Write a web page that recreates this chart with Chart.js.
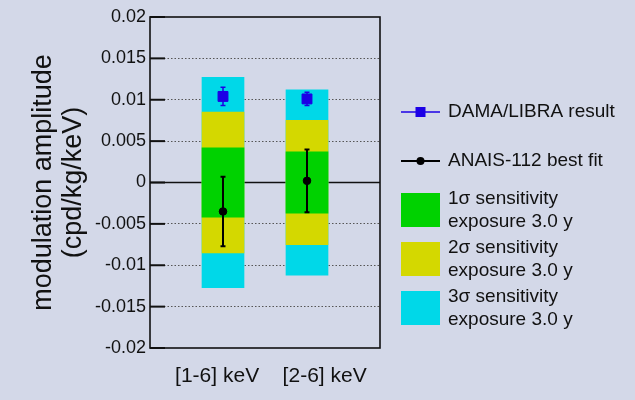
<!DOCTYPE html>
<html>
<head>
<meta charset="utf-8">
<script src="https://cdn.jsdelivr.net/npm/chart.js@4"></script>
<style>
  html, body { margin: 0; padding: 0; background: #d3d8e8; }
  #wrap { width: 635px; height: 400px; }
</style>
</head>
<body>
<div id="wrap"><canvas id="chart" width="635" height="400"></canvas></div>
<script>
// categories and where they sit on the x axis
const categories = ["[1-6] keV", "[2-6] keV"];
const barX = [1, 2];
const labelX = [0.93, 2.21];

// sensitivity bands (half widths, centred on 0)
const sigma1 = [0.0042, 0.0037];
const sigma2 = [0.0085, 0.0075];
const sigma3 = [0.0127, 0.0112];

// measured points
const anaisFit = [-0.0035, 0.0002];
const anaisErr = [0.0042, 0.0038];
const damaValue = [0.0104, 0.0101];
const damaErr = [0.0011, 0.0008];

const FONT = "'Liberation Sans', Arial, Helvetica, sans-serif";
const GREEN = "#00d200";
const YELLOW = "#d4d800";
const CYAN = "#00d8e8";
const BLUE = "#1c00e6";

const band = (half) => half.map((h, i) => ({ x: barX[i], y: [-h, h] }));
const pts = (vals) => vals.map((v, i) => ({ x: barX[i], y: v }));

const damaSet = {
  type: "scatter", label: "DAMA/LIBRA result", data: pts(damaValue), errors: damaErr,
  pointStyle: "rect", pointRadius: 7, backgroundColor: BLUE, borderColor: BLUE,
  borderWidth: 1, errorWidth: 1.5, cap: 2.5, order: 0,
};
const anaisSet = {
  type: "scatter", label: "ANAIS-112 best fit", data: pts(anaisFit), errors: anaisErr,
  pointStyle: "circle", pointRadius: 3.8, backgroundColor: "#000", borderColor: "#000",
  borderWidth: 1, errorWidth: 2, cap: 2.5, order: 1,
};
const s1Set = { label: "1σ sensitivity\nexposure 3.0 y", data: band(sigma1), backgroundColor: GREEN, order: 2 };
const s2Set = { label: "2σ sensitivity\nexposure 3.0 y", data: band(sigma2), backgroundColor: YELLOW, order: 3 };
const s3Set = { label: "3σ sensitivity\nexposure 3.0 y", data: band(sigma3), backgroundColor: CYAN, order: 4 };

// error bars under each point set
const errorBars = {
  id: "errorBars",
  beforeDatasetDraw(chart, args) {
    const ds = chart.data.datasets[args.index];
    if (!ds.errors) return;
    const { ctx, scales: { x, y } } = chart;
    ctx.save();
    ctx.strokeStyle = ds.borderColor;
    ctx.lineWidth = ds.errorWidth;
    ds.data.forEach((p, i) => {
      const px = x.getPixelForValue(p.x);
      const top = y.getPixelForValue(p.y + ds.errors[i]);
      const bot = y.getPixelForValue(p.y - ds.errors[i]);
      ctx.beginPath();
      ctx.moveTo(px, top); ctx.lineTo(px, bot);
      ctx.moveTo(px - ds.cap, top); ctx.lineTo(px + ds.cap, top);
      ctx.moveTo(px - ds.cap, bot); ctx.lineTo(px + ds.cap, bot);
      ctx.stroke();
    });
    ctx.restore();
  },
};

// zero line under the bars, frame and inner ticks on top
const frame = {
  id: "frame",
  beforeDatasetsDraw(chart) {
    const { ctx, chartArea: a, scales: { y } } = chart;
    const y0 = y.getPixelForValue(0);
    ctx.save();
    ctx.strokeStyle = "#111";
    ctx.lineWidth = 1.6;
    ctx.beginPath();
    ctx.moveTo(a.left, y0); ctx.lineTo(a.right, y0);
    ctx.stroke();
    ctx.restore();
  },
  afterDraw(chart) {
    const { ctx, chartArea: a, scales: { y } } = chart;
    ctx.save();
    ctx.strokeStyle = "#111";
    ctx.lineWidth = 2;
    y.ticks.forEach((t) => {
      const py = y.getPixelForValue(t.value);
      ctx.beginPath();
      ctx.moveTo(a.left, py); ctx.lineTo(a.left + 15, py);
      ctx.stroke();
    });
    ctx.lineWidth = 1.6;
    ctx.strokeRect(a.left, a.top, a.right - a.left, a.bottom - a.top);
    ctx.restore();
  },
};

// legend on the right
const sideLegend = {
  id: "sideLegend",
  afterDraw(chart) {
    const ctx = chart.ctx;
    const x0 = 401, x1 = 440, tx = 448;
    ctx.save();
    ctx.font = "19px " + FONT;
    ctx.textBaseline = "middle";

    [[damaSet, 112], [anaisSet, 161]].forEach(([ds, ly]) => {
      ctx.strokeStyle = ds.borderColor;
      ctx.lineWidth = ds === damaSet ? 1.5 : 2;
      ctx.beginPath(); ctx.moveTo(x0, ly); ctx.lineTo(x1, ly); ctx.stroke();
      ctx.fillStyle = ds.backgroundColor;
      const cx = (x0 + x1) / 2;
      if (ds.pointStyle === "rect") {
        ctx.fillRect(cx - 5, ly - 5, 10, 10);
      } else {
        ctx.beginPath(); ctx.arc(cx, ly, 4, 0, Math.PI * 2); ctx.fill();
      }
      ctx.fillStyle = "#111";
      ctx.fillText(ds.label, tx, ly);
    });

    [[s1Set, 193], [s2Set, 242], [s3Set, 291]].forEach(([ds, top]) => {
      ctx.fillStyle = ds.backgroundColor;
      ctx.fillRect(x0, top, x1 - x0, 34);
      ctx.fillStyle = "#111";
      ds.label.split("\n").forEach((line, i) => ctx.fillText(line, tx, top + 6 + i * 23));
    });
    ctx.restore();
  },
};

new Chart(document.getElementById("chart"), {
  type: "bar",
  data: { datasets: [damaSet, anaisSet, s1Set, s2Set, s3Set] },
  options: {
    responsive: false,
    animation: false,
    layout: { padding: { left: 0, right: 255, top: 17, bottom: 0 } },
    datasets: { bar: { barThickness: 42, grouped: false, borderWidth: 0 } },
    plugins: { legend: { display: false }, tooltip: { enabled: false } },
    scales: {
      x: {
        type: "linear", min: 0.131, max: 2.869, offset: false,
        grid: { display: false }, border: { display: false },
        afterBuildTicks: (s) => { s.ticks = labelX.map((v) => ({ value: v })); },
        afterFit: (s) => { s.height = 52; },
        ticks: {
          autoSkip: false, maxRotation: 0, padding: 8, color: "#111",
          font: { family: FONT, size: 21 },
          callback: (v, i) => categories[i],
        },
      },
      y: {
        min: -0.02, max: 0.02,
        afterFit: (s) => { s.width = 150; },
        grid: {
          drawTicks: false, lineWidth: 1,
          color: (c) => (Math.abs(c.tick.value) < 1e-9 || Math.abs(c.tick.value) > 0.0199 ? "rgba(0,0,0,0)" : "#555"),
        },
        border: { display: false, dash: [1.5, 2] },
        ticks: {
          stepSize: 0.005, padding: 4, color: "#111",
          font: { family: FONT, size: 18 },
          callback: (v) => String(parseFloat(v.toFixed(4))),
        },
        title: {
          display: true, text: ["modulation amplitude", "(cpd/kg/keV)"], color: "#111",
          font: { family: FONT, size: 27, lineHeight: 1.12 }, padding: { top: 28, bottom: 0 },
        },
      },
    },
  },
  plugins: [errorBars, frame, sideLegend],
});
</script>
</body>
</html>
